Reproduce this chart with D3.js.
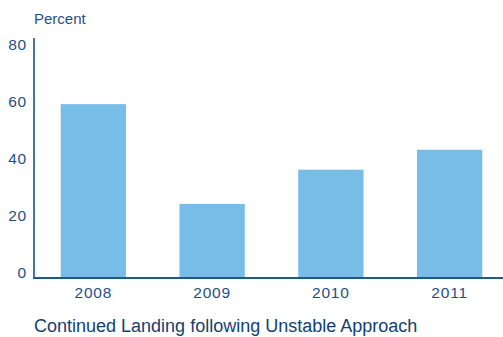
<!DOCTYPE html>
<html><head><meta charset="utf-8">
<script src="https://cdn.jsdelivr.net/npm/d3@7"></script>
<style>body{margin:0;background:#fff}svg{display:block}text{font-family:"Liberation Sans",Arial,sans-serif}</style>
</head><body>
<svg id="c" width="503" height="337"></svg>
<script>
const categories = ["2008","2009","2010","2011"];
const values = [61, 26, 38, 45];
const yTicks = [0,20,40,60,80];
const yLabel = "Percent";
const title = "Continued Landing following Unstable Approach";

const svg = d3.select("#c");
const textColor = "#1f4f86";
const x = d3.scaleBand().domain(categories).range([34, 509]).paddingInner(0.45).paddingOuter(0.225);
const y = d3.scaleLinear().domain([0, 80]).range([278, 50]);

svg.selectAll("rect.bar").data(values).enter().append("rect")
  .attr("class","bar")
  .attr("x",(d,i)=>x(categories[i]))
  .attr("width",x.bandwidth())
  .attr("y",d=>y(d))
  .attr("height",d=>y(0)-y(d))
  .attr("fill","#77bde8");

// y axis
const ya = svg.append("g").attr("transform","translate(34,0)")
  .call(d3.axisLeft(y).tickValues(yTicks).tickSize(0).tickPadding(7));
ya.select(".domain").remove();
ya.selectAll("text").attr("fill",textColor).attr("font-size",15.5).attr("letter-spacing","0.8px").attr("dy","-0.05em").attr("font-family","Liberation Sans, Arial, sans-serif");
svg.append("line").attr("x1",34).attr("x2",34).attr("y1",38).attr("y2",279)
  .attr("stroke","#4677a8").attr("stroke-width",2);

// x axis
const xa = svg.append("g").attr("transform","translate(0,278)")
  .call(d3.axisBottom(x).tickSize(0).tickPadding(9));
xa.select(".domain").remove();
xa.selectAll("text").attr("fill",textColor).attr("font-size",15.5).attr("letter-spacing","0.8px").attr("font-family","Liberation Sans, Arial, sans-serif");
svg.append("line").attr("x1",33).attr("x2",503).attr("y1",278).attr("y2",278)
  .attr("stroke","#1d5a8c").attr("stroke-width",2);

svg.append("text").attr("x",34).attr("y",24).attr("fill",textColor).attr("font-size",15).text(yLabel);
svg.append("text").attr("x",34).attr("y",332).attr("fill","#123f73").attr("font-size",18).text(title);
</script>
</body></html>
